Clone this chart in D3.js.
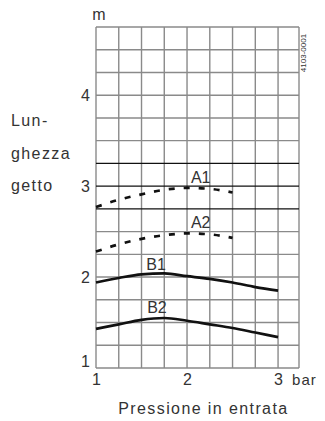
<!DOCTYPE html>
<html>
<head>
<meta charset="utf-8">
<script src="https://cdn.jsdelivr.net/npm/d3@7"></script>
<style>
  body { margin: 0; background: #fff; }
  text { font-family: "Liberation Sans", Arial, sans-serif; fill: #333; }
</style>
</head>
<body>
<div id="chart"></div>
<script>
// data
var pressure = [1, 1.25, 1.5, 1.75, 2, 2.25, 2.5, 2.75, 3];
var a1 = [2.77, 2.85, 2.91, 2.96, 2.98, 2.97, 2.93];
var a2 = [2.28, 2.36, 2.42, 2.46, 2.48, 2.47, 2.43];
var b1 = [1.94, 1.99, 2.03, 2.04, 2.01, 1.98, 1.94, 1.89, 1.85];
var b2 = [1.43, 1.48, 1.53, 1.55, 1.52, 1.48, 1.44, 1.39, 1.34];
var seriesNames = ["A1", "A2", "B1", "B2"];
var labelAt = [[2.15, 3.1], [2.15, 2.6], [1.66, 2.14], [1.67, 1.67]];
var xTicks = [1, 2, 3];
var yTicks = [1, 2, 3, 4];

var svgWidth = 325;
var svgHeight = 421;
var margin = { top: 27, right: 26, bottom: 53, left: 96 };
var width = svgWidth - margin.left - margin.right;
var height = svgHeight - margin.top - margin.bottom;

var svg = d3.select("#chart")
  .append("svg")
  .attr("width", svgWidth)
  .attr("height", svgHeight);

var chartGroup = svg.append("g")
  .attr("transform", `translate(${margin.left}, ${margin.top})`);

var x = d3.scaleLinear().domain([1, 3.23]).range([0, width]);
var y = d3.scaleLinear().domain([1, 4.75]).range([height, 0]);

// grid
var vLines = d3.range(1, 3.01, 0.25).concat([3.23]);
var hLines = d3.range(1, 4.76, 0.25);

chartGroup.selectAll(".vgrid")
  .data(vLines)
  .enter()
  .append("line")
  .attr("x1", d => x(d)).attr("x2", d => x(d))
  .attr("y1", 0).attr("y2", height)
  .attr("stroke", "#8a8a8a")
  .attr("stroke-width", 1.4);

chartGroup.selectAll(".hgrid")
  .data(hLines)
  .enter()
  .append("line")
  .attr("x1", 0).attr("x2", width)
  .attr("y1", d => y(d)).attr("y2", d => y(d))
  .attr("stroke", d => (d >= 2.75 && d <= 3.25) ? "#111" : "#8a8a8a")
  .attr("stroke-width", d => (d >= 2.75 && d <= 3.25) ? 1.3 : 1.4);

// axes (labels only)
var bottomAxis = d3.axisBottom(x).tickValues(xTicks).tickSize(0).tickPadding(6).tickFormat(d3.format("d"));
var leftAxis = d3.axisLeft(y).tickValues(yTicks).tickSize(0).tickPadding(6).tickFormat(d3.format("d"));

var gx = chartGroup.append("g")
  .attr("transform", `translate(0, ${height})`)
  .call(bottomAxis);
var gy = chartGroup.append("g").call(leftAxis);
[gx, gy].forEach(function(g) {
  g.select(".domain").remove();
  g.selectAll("text")
    .style("font-family", "'Liberation Sans', Arial, sans-serif")
    .style("font-size", "16px")
    .attr("fill", "#333");
});
gy.selectAll(".tick").filter(d => d === 1).select("text").attr("dy", "-0.1em");
gy.selectAll(".tick").filter(d => d !== 1).select("text").attr("dy", "0.35em");

// curves
var line = d3.line()
  .x((d, i) => x(pressure[i]))
  .y(d => y(d))
  .curve(d3.curveMonotoneX);

var series = [a1, a2, b1, b2];
series.forEach(function(s, i) {
  chartGroup.append("path")
    .attr("d", line(s))
    .attr("fill", "none")
    .attr("stroke", "#111")
    .attr("stroke-width", 2.7)
    .attr("stroke-dasharray", i < 2 ? "6,9" : null);

  chartGroup.append("text")
    .attr("x", x(labelAt[i][0]))
    .attr("y", y(labelAt[i][1]))
    .attr("dy", "0.35em")
    .attr("text-anchor", "middle")
    .style("font-size", "16px")
    .text(seriesNames[i]);
});

// unit labels
chartGroup.append("text")
  .attr("x", 3)
  .attr("y", -7)
  .attr("text-anchor", "middle")
  .style("font-size", "16px")
  .text("m");

chartGroup.append("text")
  .attr("x", x(3) + 14)
  .attr("y", height + 17)
  .style("font-size", "15px")
  .style("letter-spacing", "1px")
  .text("bar");

svg.append("text")
  .attr("x", margin.left + x(2.18))
  .attr("y", 414)
  .attr("text-anchor", "middle")
  .style("font-size", "16px")
  .style("letter-spacing", "1.4px")
  .text("Pressione in entrata");

// y title
var yTitle = ["Lun-", "ghezza", "getto"];
svg.selectAll(".ytitle")
  .data(yTitle)
  .enter()
  .append("text")
  .attr("x", 11)
  .attr("y", (d, i) => 126 + i * 32.5)
  .style("font-size", "16px")
  .style("letter-spacing", "1.4px")
  .text(d => d);

// drawing code
svg.append("text")
  .attr("transform", `translate(306, 53) rotate(-90)`)
  .attr("text-anchor", "middle")
  .style("font-size", "8px")
  .text("4103-0001");
</script>
</body>
</html>
